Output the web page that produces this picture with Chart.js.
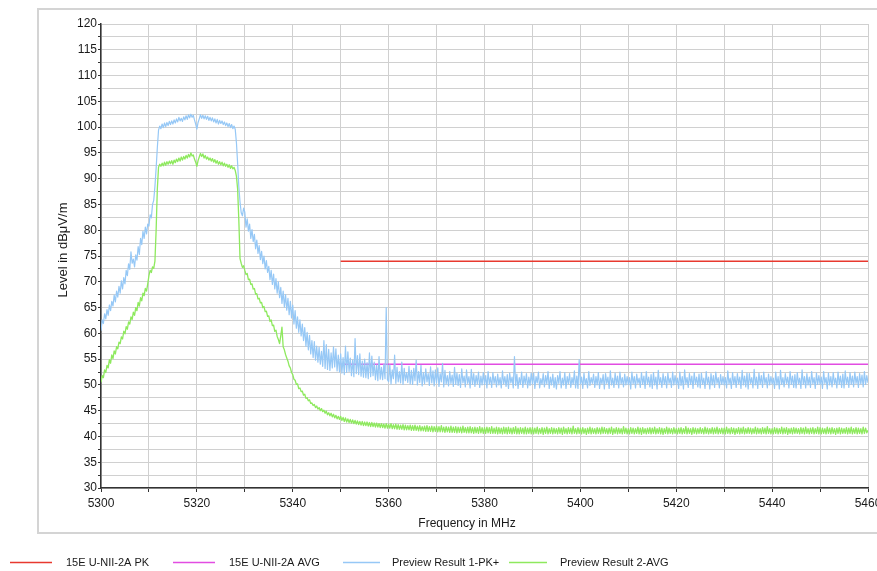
<!DOCTYPE html>
<html>
<head>
<meta charset="utf-8">
<script src="https://cdn.jsdelivr.net/npm/chart.js@4.4.1/dist/chart.umd.min.js"></script>
<style>
html, body { margin: 0; padding: 0; background: #fff; }
#wrap { width: 877px; height: 571px; }
</style>
</head>
<body>
<div id="wrap"><canvas id="c" width="877" height="571"></canvas></div>
<script>
// sweep grid: 5300 .. 5460 MHz, 0.25 MHz per sample (20 samples per row below)
var freqStart = 5300, freqStep = 0.25;

// Preview Result 1-PK+ (dBuV/m)
var pkValues = [
  60.5, 62.6, 61.9, 63.8, 62.8, 64.6, 63.5, 65.5, 64.4, 66.2, 65.3, 67.4, 66.1, 68.2, 67, 69.1, 67.8, 70.2, 68.6, 70.8, // 5300
  69.6, 72.2, 71.2, 73.5, 72.4, 75.8, 73.6, 74.4, 72.9, 75.2, 74.2, 76.8, 75.3, 78.4, 77.2, 79.8, 78.4, 80.6, 79.3, 81.2, // 5305
  80.8, 83, 82.4, 85, 85.8, 88.5, 92, 96, 99.4, 100.2, 99.7, 100.6, 99.9, 100.8, 100.1, 100.9, 100.3, 101.1, 100.5, 101.2, // 5310
  100.6, 101.4, 100.8, 101.6, 101, 101.9, 101.2, 101.7, 101.1, 102, 101.4, 102.2, 101.5, 102.4, 101.8, 102.5, 101.9, 102.3, 101.4, 100.6, // 5315
  99.6, 100.9, 101.6, 102.4, 101.7, 102.3, 101.6, 102.2, 101.5, 102.1, 101.3, 101.9, 101.2, 101.8, 101, 101.6, 100.8, 101.5, 100.6, 101.3, // 5320
  100.7, 101.2, 100.5, 101, 100.3, 100.8, 100.1, 100.7, 99.9, 100.5, 99.7, 100.2, 99.6, 97, 93, 88.5, 85.5, 83.4, 82.8, 84.3, // 5325
  83.5, 80.6, 82.2, 79.8, 81.2, 78.4, 80.1, 77.8, 79.2, 76.4, 78.1, 75.5, 77, 74.3, 75.9, 73.5, 75, 72.5, 74.1, 71.8, // 5330
  73, 70.4, 72.2, 69.5, 71.5, 68.6, 70.6, 67.8, 70, 66.9, 68.9, 65.8, 68.2, 65.1, 67.5, 64.5, 66.8, 63.6, 66.2, 63, // 5335
  65.5, 61.8, 64.4, 61, 63.2, 60.2, 62.6, 59.5, 61.8, 58.6, 61.1, 57.5, 60.2, 56.8, 59.6, 56, 58.6, 55.3, 58.4, 54.8, // 5340
  57.5, 54.4, 57.3, 54, 56.5, 53.6, 58.6, 53.2, 57.8, 53, 56.9, 52.8, 56.2, 53.3, 57.4, 53.5, 57, 52.7, 55.8, 52.5, // 5345
  56, 52.3, 55.3, 52, 57.5, 52.4, 56.4, 52.6, 55.2, 51.8, 54.8, 51.6, 59, 52.2, 55.7, 52, 56, 51.7, 54.6, 51.5, // 5350
  55, 51.4, 54.3, 51.2, 56.2, 51.6, 55.6, 51.8, 54.4, 51, 53.9, 50.8, 55.5, 51.1, 53.4, 51, 54, 51.2, 65, 51, // 5355
  50.6, 53.9, 50.2, 52.9, 51.2, 55.8, 50.3, 53.4, 50.6, 52.6, 50.4, 54.4, 50.1, 53.2, 50.8, 52.4, 50.5, 53.6, 50.2, 52.8, // 5360
  50.1, 53.2, 50.8, 54.8, 50, 52.6, 50.5, 53.8, 49.8, 52.4, 50.3, 53.1, 50.6, 52.2, 49.9, 53.5, 50.4, 52.7, 49.8, 52.9, // 5365
  50.4, 53.3, 49.7, 52.2, 50.6, 54.2, 49.6, 52.8, 50.2, 51.8, 49.8, 52.6, 50.3, 51.9, 49.7, 53.4, 50.1, 52.3, 49.9, 52, // 5370
  49.5, 53.1, 50.4, 51.7, 49.6, 52.9, 50.3, 51.6, 49.4, 53, 50.1, 52.2, 49.7, 51.8, 50.2, 52.5, 49.5, 51.7, 50, 52.4, // 5375
  50.1, 51.8, 49.4, 52.6, 50.2, 51.5, 49.5, 52.4, 50.3, 51.6, 49.6, 52.1, 50, 51.4, 49.4, 52.7, 50.2, 51.6, 49.7, 52, // 5380
  49.3, 52.3, 50.4, 51.5, 49.4, 55.5, 49.9, 52.1, 49.3, 51.4, 50.1, 52.5, 49.5, 51.7, 50.2, 52.2, 49.4, 51.5, 49.9, 52.3, // 5385
  50.2, 52.3, 49.3, 51.6, 50.4, 52.5, 49.4, 51.2, 50.1, 52.2, 49.6, 51.8, 50.2, 52.6, 49.3, 51.5, 50, 52.1, 49.5, 51.4, // 5390
  49.2, 51.8, 50.3, 52.6, 49.4, 51.3, 50, 52.4, 49.3, 51.6, 50.2, 52.2, 49.5, 51.4, 50.1, 52.7, 49.4, 51.7, 49.3, 54.9, // 5395
  50.2, 51.5, 49.3, 52.3, 50.1, 51.2, 49.4, 52.6, 49.9, 51.4, 50.3, 52.1, 49.5, 51.6, 50, 52.4, 49.3, 51.3, 50.2, 52, // 5400
  49.2, 52.2, 50.3, 51.5, 49.3, 52.7, 50, 51.3, 49.5, 52.3, 50.1, 51.7, 49.4, 52.5, 50.2, 51.4, 49.6, 52.1, 50, 51.6, // 5405
  50.1, 51.4, 49.2, 52.5, 50.2, 51.6, 49.4, 52.1, 50.3, 51.3, 49.5, 52.4, 50.1, 51.7, 49.3, 52.6, 50.2, 51.5, 49.6, 52, // 5410
  49.3, 52.4, 50, 51.5, 49.2, 52.8, 50.2, 51.4, 49.5, 52.2, 50.1, 51.6, 49.4, 52.3, 50.3, 51.3, 49.5, 52.5, 50, 51.8, // 5415
  50.1, 51.3, 49.3, 52.5, 49.9, 51.6, 49.2, 52.9, 50.2, 51.4, 49.5, 52.2, 50.1, 51.7, 49.3, 52.4, 50.2, 51.5, 49.6, 52.1, // 5420
  49.4, 52.3, 50.1, 51.3, 49.3, 52.6, 50.2, 51.5, 49.2, 52.2, 50, 51.8, 49.5, 52.5, 50.3, 51.4, 49.4, 52, 50.1, 51.6, // 5425
  50, 51.4, 49.4, 52.7, 50.2, 51.3, 49.3, 52.4, 50.1, 51.6, 49.5, 52.2, 50.2, 51.5, 49.3, 52.8, 50, 51.7, 49.6, 52.3, // 5430
  49.2, 52.2, 50.3, 51.4, 49.4, 53, 50, 51.5, 49.3, 52.3, 50.1, 51.8, 49.5, 52.5, 50.2, 51.4, 49.4, 52.1, 50, 51.6, // 5435
  50.2, 51.3, 49.3, 52.5, 50, 51.6, 49.2, 52.8, 50.1, 51.4, 49.6, 52.2, 50.3, 51.5, 49.4, 52.6, 50.1, 51.7, 49.5, 52, // 5440
  49.4, 52.4, 50.2, 51.3, 49.3, 52.9, 50.1, 51.6, 49.4, 52.2, 50, 51.5, 49.5, 52.6, 50.2, 51.4, 49.3, 52.3, 50.1, 51.8, // 5445
  50.1, 51.5, 49.3, 52.6, 50.3, 51.4, 49.2, 52.3, 50, 51.6, 49.6, 52.4, 50.2, 51.3, 49.4, 52.5, 50.1, 51.7, 49.5, 52.1, // 5450
  49.4, 52.7, 50.2, 51.5, 49.5, 52.4, 50.1, 51.7, 49.6, 52.5, 50.3, 51.6, 49.5, 52.2, 50.2, 51.9, 49.6, 52.6, 50.1, 51.8, // 5455
  50.4 // 5460
];

// Preview Result 2-AVG (dBuV/m)
var avgValues = [
  50.5, 51.8, 51.4, 52.9, 52.4, 53.8, 53.3, 54.9, 54.2, 55.8, 55.1, 56.6, 56, 57.4, 57, 58.3, 58, 59.3, 58.9, 60.4, // 5300
  59.9, 61.3, 60.8, 62.2, 61.8, 63.2, 62.7, 64.1, 63.5, 65, 64.4, 66, 65.3, 66.9, 66.3, 67.8, 67.3, 68.7, 68.2, 69.6, // 5305
  71.2, 72.2, 71.8, 72.9, 72.6, 74, 80, 88, 92.2, 92.8, 92.4, 93, 92.5, 93.2, 92.6, 93.3, 92.8, 93.4, 92.9, 93.5, // 5310
  92.8, 93.6, 93.1, 93.8, 93.3, 94, 93.4, 94.2, 93.6, 94.3, 93.8, 94.5, 94, 94.7, 94.2, 95, 94.4, 94.6, 93.8, 93.2, // 5315
  92.4, 93.5, 94.2, 94.9, 94.3, 94.8, 94, 94.5, 93.8, 94.2, 93.6, 94, 93.4, 93.9, 93.2, 93.7, 93, 93.5, 92.8, 93.3, // 5320
  92.7, 93.2, 92.5, 93, 92.4, 92.8, 92.2, 92.7, 92, 92.5, 91.9, 92.2, 91.6, 90.5, 88, 82, 74.5, 73.6, 72.8, 73.1, // 5325
  72.2, 71.4, 71.6, 70.4, 70.5, 69.5, 69.6, 68.6, 68.7, 67.6, 67.7, 66.7, 66.8, 65.9, 66, 65, 65.2, 64.2, 64.3, 63.3, // 5330
  63.4, 62.3, 62.6, 61.5, 61.6, 60.4, 60.6, 59.4, 58.8, 58, 59.5, 61.2, 57.4, 56.8, 55.9, 55.2, 54.6, 53.7, 53.3, 52.4, // 5335
  52, 51.1, 50.9, 50.1, 50.2, 49.3, 49.4, 48.7, 48.8, 48, 48.2, 47.4, 47.5, 46.9, 47.1, 46.4, 46.5, 46, 46.2, 45.6, // 5340
  45.9, 45.3, 45.6, 45, 45.4, 44.8, 45.1, 44.5, 44.9, 44.2, 44.6, 44, 44.5, 43.8, 44.3, 43.6, 44.1, 43.4, 43.9, 43.3, // 5345
  43.9, 43.1, 43.7, 42.9, 43.6, 42.8, 43.4, 42.7, 43.3, 42.6, 43.2, 42.5, 43.1, 42.4, 43, 42.3, 42.9, 42.2, 42.9, 42.1, // 5350
  42.8, 42.1, 42.8, 42, 42.7, 41.9, 42.7, 41.9, 42.6, 41.8, 42.6, 41.8, 42.5, 41.7, 42.5, 41.7, 42.4, 41.6, 42.5, 41.6, // 5355
  42.4, 41.6, 42.5, 41.5, 42.3, 41.5, 42.4, 41.4, 42.3, 41.4, 42.2, 41.4, 42.3, 41.3, 42.2, 41.3, 42.1, 41.3, 42.2, 41.2, // 5360
  42.1, 41.2, 42.2, 41.2, 42, 41.1, 42.1, 41.1, 41.9, 41.1, 42, 41, 42.1, 41, 41.9, 41, 42, 40.9, 41.9, 41, // 5365
  42, 40.9, 41.9, 40.9, 42.1, 40.9, 41.8, 40.8, 41.9, 40.9, 41.8, 40.8, 42, 40.8, 41.8, 40.8, 41.9, 40.7, 41.8, 40.8, // 5370
  41.8, 40.7, 42, 40.8, 41.7, 40.7, 41.8, 40.7, 41.9, 40.7, 41.7, 40.6, 41.8, 40.7, 41.7, 40.6, 41.9, 40.7, 41.7, 40.6, // 5375
  41.7, 40.6, 41.8, 40.7, 41.7, 40.6, 41.9, 40.6, 41.6, 40.6, 41.8, 40.5, 41.7, 40.6, 41.6, 40.5, 41.8, 40.6, 41.7, 40.5, // 5380
  41.8, 40.6, 41.6, 40.5, 41.7, 40.6, 41.9, 40.5, 41.6, 40.5, 41.7, 40.6, 41.6, 40.5, 41.8, 40.5, 41.6, 40.6, 41.7, 40.5, // 5385
  41.7, 40.5, 41.6, 40.6, 41.8, 40.5, 41.5, 40.6, 41.7, 40.4, 41.6, 40.6, 41.8, 40.5, 41.5, 40.6, 41.7, 40.5, 41.6, 40.6, // 5390
  41.5, 40.5, 41.7, 40.6, 41.6, 40.4, 41.8, 40.6, 41.5, 40.5, 41.7, 40.6, 41.6, 40.5, 42, 40.6, 41.5, 40.5, 41.7, 40.6, // 5395
  41.6, 40.5, 41.7, 40.6, 41.5, 40.4, 41.6, 40.6, 41.8, 40.5, 41.6, 40.6, 41.5, 40.5, 41.7, 40.6, 41.6, 40.5, 41.8, 40.6, // 5400
  41.7, 40.6, 41.5, 40.5, 41.6, 40.6, 41.8, 40.4, 41.5, 40.6, 41.7, 40.5, 41.6, 40.6, 41.5, 40.5, 41.9, 40.6, 41.6, 40.5, // 5405
  41.5, 40.5, 41.7, 40.6, 41.6, 40.5, 41.5, 40.6, 41.8, 40.5, 41.6, 40.4, 41.7, 40.6, 41.5, 40.5, 41.6, 40.6, 41.7, 40.5, // 5410
  41.6, 40.6, 41.8, 40.5, 41.5, 40.6, 41.7, 40.5, 41.6, 40.4, 41.5, 40.6, 41.8, 40.5, 41.6, 40.6, 41.5, 40.5, 41.7, 40.6, // 5415
  41.5, 40.5, 41.6, 40.6, 41.7, 40.5, 41.5, 40.6, 41.9, 40.5, 41.6, 40.6, 41.5, 40.4, 41.7, 40.6, 41.6, 40.5, 41.5, 40.6, // 5420
  41.7, 40.6, 41.5, 40.5, 41.8, 40.6, 41.6, 40.5, 41.5, 40.6, 41.7, 40.5, 41.6, 40.6, 41.8, 40.5, 41.5, 40.6, 41.6, 40.5, // 5425
  41.6, 40.5, 41.8, 40.6, 41.5, 40.5, 41.7, 40.6, 41.6, 40.4, 41.5, 40.6, 41.7, 40.5, 41.6, 40.6, 41.8, 40.5, 41.5, 40.6, // 5430
  41.7, 40.6, 41.6, 40.5, 41.5, 40.6, 41.8, 40.5, 41.6, 40.6, 41.5, 40.5, 41.7, 40.6, 41.6, 40.5, 41.9, 40.6, 41.5, 40.5, // 5435
  41.5, 40.5, 41.7, 40.6, 41.6, 40.5, 41.5, 40.6, 41.8, 40.5, 41.6, 40.6, 41.7, 40.4, 41.5, 40.6, 41.6, 40.5, 41.7, 40.6, // 5440
  41.6, 40.6, 41.5, 40.5, 41.7, 40.6, 41.6, 40.5, 41.8, 40.6, 41.5, 40.5, 41.6, 40.6, 41.7, 40.5, 41.5, 40.6, 41.8, 40.5, // 5445
  41.7, 40.5, 41.6, 40.6, 41.5, 40.5, 41.8, 40.6, 41.6, 40.5, 41.7, 40.6, 41.5, 40.4, 41.6, 40.6, 41.7, 40.5, 41.6, 40.6, // 5450
  41.5, 40.6, 41.7, 40.5, 41.6, 40.6, 41.8, 40.5, 41.5, 40.6, 41.7, 40.5, 41.6, 40.6, 41.5, 40.5, 41.8, 40.6, 41.6, 40.7, // 5455
  41.2 // 5460
];

// limit lines
var limitFreq = [5350, 5460];
var limitPk = [74, 74];
var limitAvg = [54, 54];

var seriesNames = ['15E U-NII-2A PK', '15E U-NII-2A AVG', 'Preview Result 1-PK+', 'Preview Result 2-AVG'];
var seriesColors = ['#e8392f', '#e24de2', '#96c8f6', '#8ee95e'];

var xTitle = 'Frequency in MHz';
var yTitle = 'Level in dB\u03bcV/m';
var FONT = '"Liberation Sans", Arial, sans-serif';

var freq = pkValues.map(function (v, i) { return freqStart + i * freqStep; });

function toPoints(xs, ys) {
  return ys.map(function (v, i) { return { x: xs[i], y: v }; });
}

// frame, axis titles and the legend row
var decor = {
  id: 'decor',
  beforeDraw: function (chart) {
    var ctx = chart.ctx;
    ctx.save();
    ctx.strokeStyle = '#d4d4d4';
    ctx.lineWidth = 2;
    ctx.strokeRect(38, 9, 900, 524);
    ctx.restore();
  },
  afterDraw: function (chart) {
    var ctx = chart.ctx;
    ctx.save();
    ctx.fillStyle = '#1a1a1a';
    ctx.textBaseline = 'middle';
    ctx.textAlign = 'center';
    ctx.font = '12px ' + FONT;
    ctx.fillText(xTitle, 467, 524);
    ctx.save();
    ctx.translate(63, 250);
    ctx.rotate(-Math.PI / 2);
    ctx.font = '13px ' + FONT;
    ctx.fillText(yTitle, 0, 0);
    ctx.restore();

    var lineX = [[10, 52], [173, 215], [343, 380], [509, 547]];
    var textX = [66, 229, 392, 560];
    ctx.font = '11px ' + FONT;
    ctx.textAlign = 'left';
    ctx.lineWidth = 1.5;
    for (var i = 0; i < seriesNames.length; i++) {
      ctx.strokeStyle = seriesColors[i];
      ctx.beginPath();
      ctx.moveTo(lineX[i][0], 562.5);
      ctx.lineTo(lineX[i][1], 562.5);
      ctx.stroke();
      ctx.fillText(seriesNames[i], textX[i], 563);
    }
    ctx.restore();
  }
};

new Chart(document.getElementById('c'), {
  type: 'line',
  data: {
    datasets: [
      { label: seriesNames[0], data: toPoints(limitFreq, limitPk), borderColor: seriesColors[0], borderWidth: 1.5, order: 4 },
      { label: seriesNames[1], data: toPoints(limitFreq, limitAvg), borderColor: seriesColors[1], borderWidth: 1.5, order: 3 },
      { label: seriesNames[2], data: toPoints(freq, pkValues), borderColor: seriesColors[2], borderWidth: 1.2, order: 2 },
      { label: seriesNames[3], data: toPoints(freq, avgValues), borderColor: seriesColors[3], borderWidth: 1.3, order: 1 }
    ]
  },
  options: {
    responsive: false,
    animation: false,
    devicePixelRatio: 1,
    elements: { point: { radius: 0 }, line: { tension: 0, borderJoinStyle: 'round' } },
    layout: { padding: { left: 0, top: 24, right: 9, bottom: 0 } },
    plugins: { legend: { display: false }, tooltip: { enabled: false } },
    scales: {
      x: {
        type: 'linear',
        min: 5300,
        max: 5460,
        afterFit: function (s) { s.height = 83; s.paddingLeft = 0; s.paddingRight = 0; },
        border: { color: '#333', width: 1.5 },
        grid: { color: '#d0d0d0', lineWidth: 1, tickLength: 4, tickColor: '#333' },
        ticks: {
          stepSize: 10,
          autoSkip: false,
          maxRotation: 0,
          padding: 4,
          color: '#1a1a1a',
          font: { family: FONT, size: 12 },
          callback: function (v) { return v % 20 === 0 ? String(v) : ''; }
        }
      },
      y: {
        min: 30,
        max: 120,
        afterFit: function (s) { s.width = 101; },
        border: { color: '#333', width: 1.5 },
        grid: { color: '#d0d0d0', lineWidth: 1, tickLength: 3, tickColor: '#333' },
        ticks: {
          stepSize: 2.5,
          autoSkip: false,
          padding: 1,
          color: '#1a1a1a',
          font: { family: FONT, size: 12 },
          callback: function (v) { return v % 5 === 0 ? String(v) : ''; }
        }
      }
    }
  },
  plugins: [decor]
});
</script>
</body>
</html>
